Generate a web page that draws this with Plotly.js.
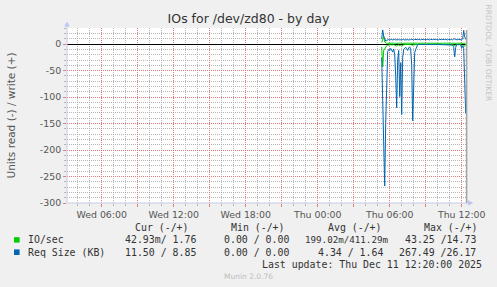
<!DOCTYPE html>
<html><head><meta charset="utf-8">
<script src="https://cdn.plot.ly/plotly-3.0.1.min.js"></script>
<style>html,body{margin:0;padding:0;background:#F0F0F0;}#chart{width:497px;height:287px;}</style>
</head><body><div id="chart"></div>
<script>
// ---- data (5-minute samples, Thu 11 Dec 2025 05:20 .. 12:20) ----
const seriesStart = '2025-12-11T05:20:00';
const stepMinutes = 5;
// IO/sec read (plotted negative) and write (plotted positive)
const ioRead = [5, 43, 12, 8, 5, 3, 2, 1.5, 2, 1, 1.5, 1, 1, 2, 3, 4, 2, 1.5, 3, 2, 4, 1.5, 1, 0.8, 0.6, 0.8, 1, 0.6, 0.5, 0.8, 1.5, 2, 1, 0.8, 0.5, 0.4,
  0.3, 0.2, 0.3, 0.4, 0.2, 0.3, 0.3, 0.2, 0.4, 0.3, 0.2, 0.3, 0.3, 0.4, 0.2, 0.3, 0.3, 0.2, 0.4, 0.3, 0.3, 0.2, 0.3, 0.3, 0.4, 0.2, 0.3, 0.3, 0.2, 0.3, 0.4, 0.3, 0.2, 0.3, 0.3, 0.5,
  1.5, 3, 1, 0.3, 0.3, 0.2, 0.3, 0.5, 2, 4, 3, 4, 0.04];
const ioWrite = [3, 10, 14.7, 4, 2, 1.8, 1.7, 1.9, 1.8, 1.6, 1.8, 1.9, 1.7, 1.8, 1.6, 1.9, 1.8, 1.7, 1.8, 1.9, 1.7, 1.8, 1.8, 1.7, 1.9, 1.8, 1.6, 1.8, 1.9, 1.7, 1.8, 1.7, 1.8, 1.9, 1.8, 1.7,
  1.8, 1.7, 1.9, 1.8, 1.7, 1.8, 1.8, 1.7, 1.9, 1.8, 1.7, 1.8, 1.8, 1.7, 1.9, 1.8, 1.7, 1.8, 1.8, 1.7, 1.9, 1.8, 1.7, 1.8, 1.8, 1.7, 1.9, 1.8, 1.7, 1.8, 1.8, 1.7, 1.9, 1.8, 1.7, 1.8,
  1.8, 2, 1.8, 1.7, 1.8, 1.9, 1.8, 1.7, 1.8, 2, 2.5, 2, 1.76];
// Req Size (KB) read (plotted negative) and write (plotted positive)
const reqRead = [25, 90, 200, 268, 150, 45, 14, 10, 12, 8, 11, 15, 9, 20, 60, 120, 30, 12, 99, 35, 133, 25, 10, 8, 6, 9, 12, 7, 5, 10, 40, 145, 55, 16, 10, 3,
  0.8, 0.5, 0.8, 1, 0.5, 0.8, 0.8, 0.5, 1, 0.8, 0.5, 0.8, 0.8, 1, 0.5, 0.8, 0.8, 0.5, 1, 0.8, 0.8, 0.5, 0.8, 0.8, 1, 0.5, 0.8, 0.8, 0.5, 0.8, 1, 0.8, 0.5, 0.8, 0.8, 1.5,
  6, 24, 6, 1, 1, 0.5, 1, 2, 7.5, 3, 8, 70, 131];
const reqWrite = [10, 27, 15, 8, 6, 7, 8.5, 9, 8, 8.5, 9, 8, 8.5, 9, 8, 8.5, 9, 8.5, 8, 9, 8.5, 8.5, 9, 8, 8.5, 9, 8.5, 8, 9, 8.5, 9, 8.5, 8, 9, 8.5, 8,
  8.5, 9, 8.5, 8, 9, 8.5, 8.5, 9, 8, 8.5, 9, 8.5, 8, 9, 8.5, 8.5, 9, 8, 8.5, 9, 8.5, 8, 9, 8.5, 8.5, 9, 8, 8.5, 9, 8.5, 8, 9, 8.5, 8.5, 9, 8,
  9.5, 10, 8.5, 8, 8.5, 9, 8.5, 8, 8, 10, 26, 14, 8.85];

// ---- axes / labels ----
const xRange = ['2025-12-10 03:06:30', '2025-12-11 12:26:30'];
const xTickVals = ['2025-12-10 06:00', '2025-12-10 09:00', '2025-12-10 12:00', '2025-12-10 15:00', '2025-12-10 18:00', '2025-12-10 21:00',
  '2025-12-11 00:00', '2025-12-11 03:00', '2025-12-11 06:00', '2025-12-11 09:00', '2025-12-11 12:00'];
const xTickText = ['Wed 06:00', '', 'Wed 12:00', '', 'Wed 18:00', '', 'Thu 00:00', '', 'Thu 06:00', '', 'Thu 12:00'];
const yRange = [-300, 30.5];
const yTickVals = [0, -50, -100, -150, -200, -250, -300];
const yTickText = ['0', '-50', '-100', '-150', '-200', '-250', '-300'];

const legendNames = ['IO/sec', 'Req Size (KB)'];
const legendColors = ['#00CC00', '#0066B3'];
const legendHeaders = ['Cur (-/+)', 'Min (-/+)', 'Avg (-/+)', 'Max (-/+)'];
const curText = ['42.93m/ 1.76', '11.50 / 8.85'];
const minText = ['0.00 / 0.00', '0.00 / 0.00'];
const avgText = ['199.02m/411.29m', '4.34 / 1.64'];
const maxText = ['43.25 /14.73', '267.49 /26.17'];
const lastUpdate = 'Last update: Thu Dec 11 12:20:00 2025';
const footer = 'Munin 2.0.76';
const sideText = 'RRDTOOL / TOBI OETIKER';
const chartTitle = 'IOs for /dev/zd80 - by day';
const yTitle = 'Units read (-) / write (+)';

// ---- build ----
const t0 = new Date(seriesStart + 'Z').getTime();
const times = ioRead.map((_, i) => new Date(t0 + i * stepMinutes * 60000).toISOString().replace('T', ' ').slice(0, 19));
const neg = a => a.map(v => -v);

const L = 67, T = 28, W = 400, H = 175;
const px = x => (x - L) / W;
const py = y => (T + H - y) / H;

const mono = {family: 'DejaVu Sans Mono', size: 9.9, color: '#333333'};
const monoTight = {family: 'DejaVu Sans Mono', size: 9.2, color: '#333333'};
const traces = [
  {x: times, y: neg(ioRead), type: 'scatter', mode: 'lines', line: {color: legendColors[0], width: 1}, hoverinfo: 'skip'},
  {x: times, y: ioWrite, type: 'scatter', mode: 'lines', line: {color: legendColors[0], width: 1}, hoverinfo: 'skip'},
  {x: times, y: neg(reqRead), type: 'scatter', mode: 'lines', line: {color: legendColors[1], width: 1}, hoverinfo: 'skip'},
  {x: times, y: reqWrite, type: 'scatter', mode: 'lines', line: {color: legendColors[1], width: 1}, hoverinfo: 'skip'}
];

const ann = [];
function txt(text, x, y, anchor, font, extra) {
  ann.push(Object.assign({text: text, xref: 'paper', yref: 'paper', x: px(x), y: py(y), xanchor: anchor, yanchor: 'middle',
    showarrow: false, borderpad: 0, font: font}, extra || {}));
}
const headerX = [134.3, 230, 326.7, 422.7];
legendHeaders.forEach((h, i) => txt(h, headerX[i], 227, 'left', mono));
const rowY = [239.5, 252];
const avgRight = [389.4, 383.9];
legendNames.forEach((n, i) => {
  txt(n, 26.7, rowY[i], 'left', mono);
  txt(curText[i], 196.8, rowY[i], 'right', mono);
  txt(minText[i], 289.8, rowY[i], 'right', mono);
  txt(avgText[i], avgRight[i], rowY[i], 'right', avgText[i].length > 13 ? monoTight : mono);
  txt(maxText[i], 476.8, rowY[i], 'right', mono);
});
txt(lastUpdate, 482.5, 264, 'right', mono);
txt(footer, 248.3, 276, 'center', {family: 'DejaVu Sans', size: 7.5, color: '#BDBDBD'});
txt(sideText, 488.5, 53, 'center', {family: 'DejaVu Sans', size: 7.5, color: '#C4C4C4'}, {textangle: 90});

const axisCol = '#C6CAE6';
const shapes = [
  {type: 'line', xref: 'paper', yref: 'paper', x0: px(67), x1: px(67), y0: py(203), y1: py(24), line: {color: axisCol, width: 1}},
  {type: 'line', xref: 'paper', yref: 'paper', x0: px(67), x1: px(470), y0: py(203), y1: py(203), line: {color: axisCol, width: 1}},
  {type: 'path', xref: 'paper', yref: 'paper', path: `M${px(64.3)},${py(26.5)} L${px(69.7)},${py(26.5)} L${px(67)},${py(21.5)} Z`, fillcolor: '#BCC4F2', line: {width: 0}},
  {type: 'path', xref: 'paper', yref: 'paper', path: `M${px(468)},${py(200.3)} L${px(468)},${py(205.7)} L${px(473.2)},${py(203)} Z`, fillcolor: '#BCC4F2', line: {width: 0}},
  {type: 'line', xref: 'paper', yref: 'paper', x0: px(466.6), x1: px(466.6), y0: py(203), y1: py(30), line: {color: '#A4A4A4', width: 1.5}},
  {type: 'rect', xref: 'paper', yref: 'paper', x0: px(14), x1: px(19.6), y0: py(242.6), y1: py(237.2), fillcolor: legendColors[0], line: {width: 0}},
  {type: 'rect', xref: 'paper', yref: 'paper', x0: px(14), x1: px(19.6), y0: py(255), y1: py(249.4), fillcolor: legendColors[1], line: {width: 0}}
];

const majorGrid = 'rgba(228,115,115,0.9)';
const minorGrid = 'rgba(165,165,165,0.8)';
const tickFont = {family: 'DejaVu Sans', size: 9.4, color: '#555555'};
const layout = {
  width: 497, height: 287,
  margin: {l: L, r: 497 - L - W, t: T, b: 287 - T - H, pad: 0},
  paper_bgcolor: '#F0F0F0', plot_bgcolor: '#FFFFFF',
  showlegend: false,
  title: {text: chartTitle, x: 0.5, xref: 'container', y: 1 - 19 / 287, yref: 'container', xanchor: 'center', yanchor: 'middle',
    font: {family: 'DejaVu Sans', size: 12.5, color: '#333333'}},
  xaxis: {type: 'date', range: xRange, tickmode: 'array', tickvals: xTickVals, ticktext: xTickText,
    showgrid: true, gridcolor: majorGrid, griddash: '1px,1px', gridwidth: 1,
    ticks: 'outside', ticklen: 3, tickcolor: majorGrid, tickfont: tickFont, showline: false, zeroline: false,
    minor: {tickmode: 'linear', tick0: '2025-12-10 00:00', dtick: 3600000, showgrid: true, gridcolor: minorGrid, griddash: '1px,1px', gridwidth: 1,
      ticks: 'outside', ticklen: 2, tickcolor: minorGrid},
    fixedrange: true},
  yaxis: {range: yRange, tickmode: 'array', tickvals: yTickVals, ticktext: yTickText,
    showgrid: true, gridcolor: majorGrid, griddash: '1px,1px', gridwidth: 1,
    ticks: 'outside', ticklen: 3, tickcolor: majorGrid, tickfont: tickFont, showline: false,
    zeroline: true, zerolinecolor: '#000000', zerolinewidth: 1,
    minor: {tickmode: 'linear', tick0: 0, dtick: 10, showgrid: true, gridcolor: minorGrid, griddash: '1px,1px', gridwidth: 1,
      ticks: 'outside', ticklen: 2, tickcolor: minorGrid},
    title: {text: yTitle, font: {family: 'DejaVu Sans', size: 10.5, color: '#555555'}, standoff: 22},
    automargin: false, fixedrange: true},
  annotations: ann,
  shapes: shapes
};
Plotly.newPlot('chart', traces, layout, {displayModeBar: false, staticPlot: true});
</script>
</body></html>
